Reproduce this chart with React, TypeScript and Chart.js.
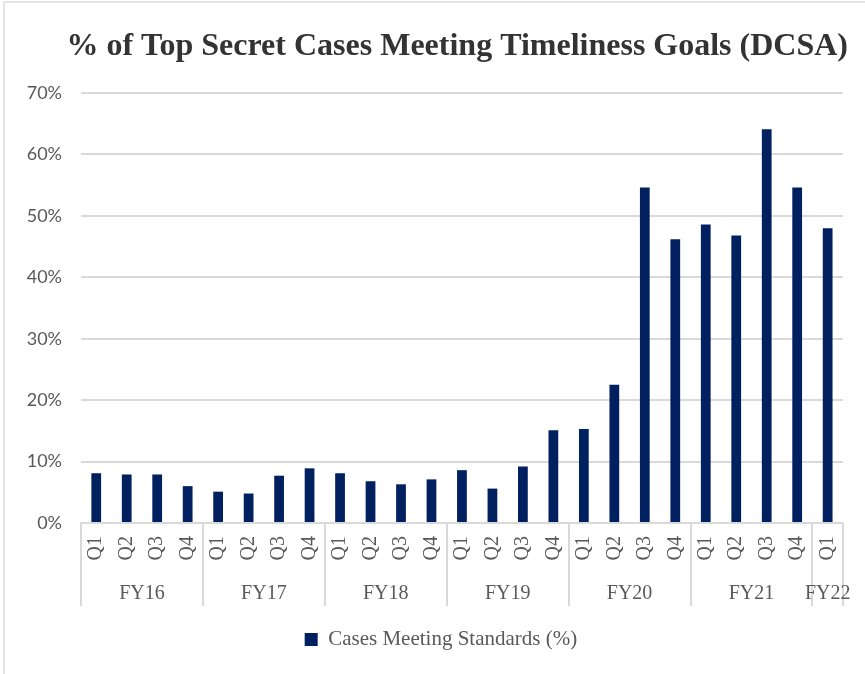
import React, { useEffect, useRef } from 'react';
import { Chart, registerables } from 'chart.js';

Chart.register(...registerables);

const chartTitle = '% of Top Secret Cases Meeting Timeliness Goals (DCSA)';
const seriesName = 'Cases Meeting Standards (%)';

const quarterLabels = [
  'Q1', 'Q2', 'Q3', 'Q4',
  'Q1', 'Q2', 'Q3', 'Q4',
  'Q1', 'Q2', 'Q3', 'Q4',
  'Q1', 'Q2', 'Q3', 'Q4',
  'Q1', 'Q2', 'Q3', 'Q4',
  'Q1', 'Q2', 'Q3', 'Q4',
  'Q1',
];

const fiscalYears = ['FY16', 'FY17', 'FY18', 'FY19', 'FY20', 'FY21', 'FY22'];
const quartersPerYear = [4, 4, 4, 4, 4, 4, 1];

const casesMeetingStandards = [
  8.1, 7.9, 7.9, 6.0,
  5.1, 4.8, 7.7, 8.9,
  8.1, 6.8, 6.3, 7.1,
  8.6, 5.6, 9.2, 15.1,
  15.3, 22.5, 54.6, 46.2,
  48.6, 46.8, 64.1, 54.6,
  48.0,
];

const yMax = 70;
const yStep = 10;

const SERIF = "'Liberation Serif', 'Times New Roman', serif";
const SANS = "Lato, 'Open Sans', sans-serif";
const GRID = '#d9d9d9';
const TEXT = '#595959';

const fiscalYearPlugin = {
  id: 'fiscalYearGroups',
  afterLayout(chart: any) {
    // centre the legend under the plot area rather than the whole canvas
    const lg = chart.legend;
    if (lg) {
      const shift = (chart.chartArea.left + chart.chartArea.right) / 2 - (lg.left + lg.right) / 2 - 21;
      lg.left += shift;
      lg.right += shift;
    }
  },
  afterDraw(chart: any) {
    const x = chart.scales.x;
    const { ctx, chartArea } = chart;
    const n = quarterLabels.length;
    const step = n > 1 ? x.getPixelForValue(1) - x.getPixelForValue(0) : x.width;
    const top = chartArea.bottom;
    const bottom = chartArea.bottom + 83;
    ctx.save();
    ctx.strokeStyle = GRID;
    ctx.lineWidth = 2;
    ctx.fillStyle = TEXT;
    ctx.font = `20px ${SERIF}`;
    ctx.textAlign = 'center';
    ctx.textBaseline = 'middle';
    let start = 0;
    const drawSep = (px: number) => {
      const xx = Math.round(px);
      ctx.beginPath();
      ctx.moveTo(xx, top);
      ctx.lineTo(xx, bottom);
      ctx.stroke();
    };
    drawSep(x.getPixelForValue(0) - step / 2);
    fiscalYears.forEach((fy, i) => {
      const end = start + quartersPerYear[i] - 1;
      const right = x.getPixelForValue(end) + step / 2;
      drawSep(right);
      const center = (x.getPixelForValue(start) + x.getPixelForValue(end)) / 2;
      ctx.fillText(fy, center, chartArea.bottom + 71);
      start = end + 1;
    });
    ctx.restore();
  },
};

export default function App() {
  const canvasRef = useRef<HTMLCanvasElement | null>(null);

  useEffect(() => {
    if (!canvasRef.current) return;
    const chart = new Chart(canvasRef.current, {
      type: 'bar',
      data: {
        labels: quarterLabels,
        datasets: [
          {
            label: seriesName,
            data: casesMeetingStandards,
            backgroundColor: '#002060',
            borderWidth: 0,
            barPercentage: 0.32,
            categoryPercentage: 1,
          },
        ],
      },
      options: {
        responsive: false,
        animation: false,
        devicePixelRatio: 1,
        layout: { padding: { left: 16, right: 17, top: 0, bottom: 14 } },
        plugins: {
          title: {
            display: true,
            text: chartTitle,
            align: 'end',
            color: '#333333',
            font: { family: SERIF, size: 32, weight: 'bold' },
            padding: { top: 28, bottom: 26.6 },
          },
          legend: {
            display: true,
            position: 'bottom',
            labels: {
              boxWidth: 13,
              boxHeight: 13,
              color: TEXT,
              font: { family: SERIF, size: 21 },
              padding: 10,
            },
          },
          tooltip: { enabled: false },
        },
        scales: {
          x: {
            grid: { display: false, drawTicks: false },
            border: { display: true, color: GRID, width: 2 },
            ticks: {
              autoSkip: false,
              minRotation: 90,
              maxRotation: 90,
              color: TEXT,
              font: { family: SERIF, size: 20 },
              padding: 13,
            },
            afterFit: (s: any) => {
              s.height = 96;
            },
          },
          y: {
            min: 0,
            max: yMax,
            grid: { color: GRID, lineWidth: 2, drawTicks: false },
            border: { display: false },
            ticks: {
              stepSize: yStep,
              color: TEXT,
              font: { family: SANS, size: 18 },
              padding: 19,
              callback: (v: any) => `${v}%`,
            },
            afterFit: (s: any) => {
              s.width = 65;
            },
          },
        },
      },
      plugins: [fiscalYearPlugin],
    } as any);
    return () => chart.destroy();
  }, []);

  return (
    <div style={{ position: 'fixed', left: 0, top: 0, width: 865, height: 674, background: '#fff' }}>
      <div
        style={{
          position: 'absolute',
          left: 3,
          top: 1,
          right: 0,
          bottom: 0,
          borderLeft: '2px solid #e4e4e4',
          borderTop: '2px solid #e4e4e4',
        }}
      />
      <canvas ref={canvasRef} width={865} height={674} style={{ position: 'absolute', left: 0, top: 0 }} />
    </div>
  );
}
